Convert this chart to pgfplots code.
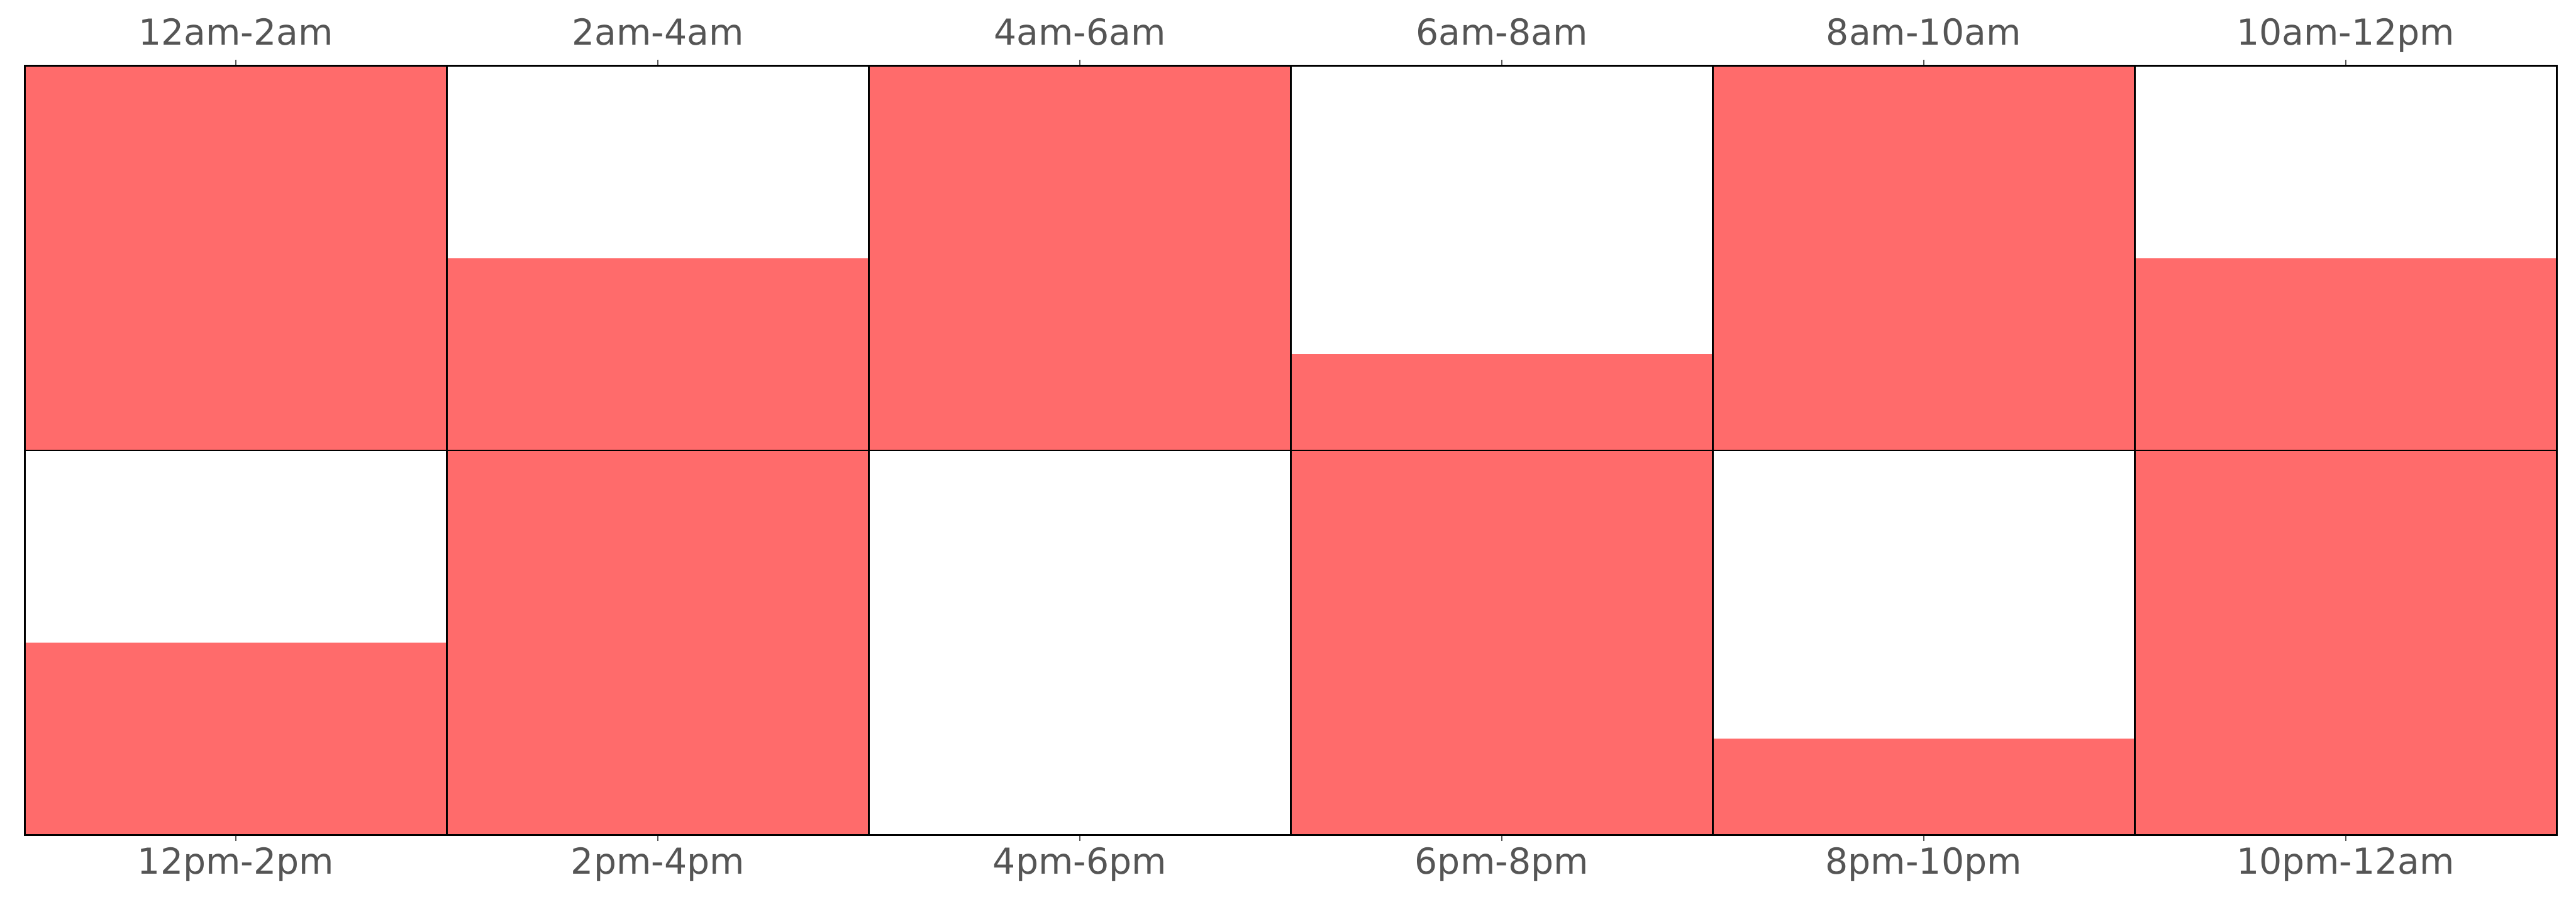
\documentclass[border=0pt]{standalone}
\usepackage{fontspec}
\setmainfont{DejaVu Sans}
\usepackage{pgfplots}
\pgfplotsset{compat=1.18}
\usepackage{pgfplotstable}
\definecolor{cellred}{RGB}{255,107,107}
\definecolor{labgray}{RGB}{85,85,85}

% x = column centre; bot = bottom-row fill; gap = empty space; top = top-row fill
\pgfplotstableread{
x   bot  gap  top
0.5 0.5  0.5  1
1.5 1    0    0.5
2.5 0    1    1
3.5 1    0    0.25
4.5 0.25 0.75 1
5.5 1    0    0.5
}\cells

\begin{document}
\begin{tikzpicture}
\pgfplotsset{
  common/.style={
    at={(0,0)}, anchor=south west,
    scale only axis, width=1415.3pt, height=429.8pt,
    xmin=0, xmax=6, ymin=0, ymax=2,
    ytick=\empty,
    xtick={0.5,1.5,2.5,3.5,4.5,5.5},
    tick align=outside,
    major tick length=3.5pt,
    every tick/.style={labgray, line width=0.8pt},
    tick label style={font=\fontsize{20}{24}\selectfont, text=labgray},
    axis line style={black, line width=1pt},
  }
}
\begin{axis}[common,
  xtick pos=bottom, xticklabel pos=bottom,
  xticklabels={12pm-2pm,2pm-4pm,4pm-6pm,6pm-8pm,8pm-10pm,10pm-12am},
  ybar stacked, bar width=1,
  extra x ticks={1,2,3,4,5}, extra x tick labels={},
  extra x tick style={grid=major, major tick length=0pt, major grid style={black, line width=1pt}},
  extra y ticks={1}, extra y tick labels={},
  extra y tick style={grid=major, major tick length=0pt, major grid style={black, line width=1pt}},
  axis on top]
\addplot[fill=cellred, draw=none] table[x=x, y=bot]{\cells};
\addplot[fill=none, draw=none] table[x=x, y=gap]{\cells};
\addplot[fill=cellred, draw=none] table[x=x, y=top]{\cells};
\end{axis}
\begin{axis}[common,
  xtick pos=top, xticklabel pos=top,
  xticklabel style={anchor=base, inner sep=0pt, yshift=8.3pt},
  xticklabels={12am-2am,2am-4am,4am-6am,6am-8am,8am-10am,10am-12pm}]
\end{axis}
\path[use as bounding box] (-13.9pt,-37.4pt) rectangle (1426.1pt,466.6pt);
\end{tikzpicture}
\end{document}
